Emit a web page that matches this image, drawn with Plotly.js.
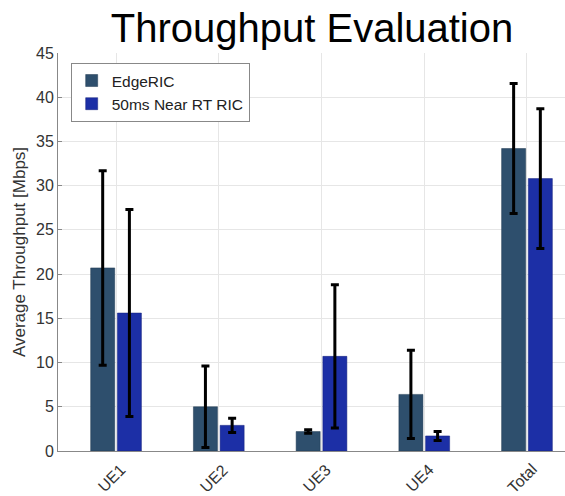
<!DOCTYPE html>
<html>
<head>
<meta charset="utf-8">
<script src="https://cdn.plot.ly/plotly-3.0.1.min.js"></script>
<style>html,body{margin:0;padding:0;background:#fff;}#chart{width:565px;height:496px;}</style>
</head>
<body>
<div id="chart"></div>
<script>
const categories = ["UE1", "UE2", "UE3", "UE4", "Total"];
const edgericMean = [20.7, 5.0, 2.2, 6.4, 34.2];
const edgericErr = [11.0, 4.6, 0.2, 5.0, 7.35];
const nearRtMean = [15.6, 2.9, 10.7, 1.7, 30.8];
const nearRtErr = [11.7, 0.8, 8.1, 0.5, 7.9];
const seriesNames = ["EdgeRIC", "50ms Near RT RIC"];
const yTicks = [0, 5, 10, 15, 20, 25, 30, 35, 40, 45];

const errStyle = {type: "data", visible: true, color: "#000000", thickness: 3, width: 4};

const traces = [
  {type: "bar", name: seriesNames[0], x: categories, y: edgericMean,
   marker: {color: "#2e4f6d", line: {color: "#1e3850", width: 0.5}},
   error_y: Object.assign({array: edgericErr}, errStyle)},
  {type: "bar", name: seriesNames[1], x: categories, y: nearRtMean,
   marker: {color: "#1c2fa6", line: {color: "#15207a", width: 0.5}},
   error_y: Object.assign({array: nearRtErr}, errStyle)}
];

const tickAnnotations = categories.map(c => ({
  x: c, y: 0, xref: "x", yref: "y", text: c, showarrow: false,
  textangle: -45, xanchor: "center", yanchor: "middle",
  xshift: -5, yshift: -27,
  font: {size: 16, color: "#333333"}
}));

const layout = {
  width: 565, height: 496,
  margin: {l: 58, r: 0, t: 53, b: 45},
  paper_bgcolor: "#ffffff", plot_bgcolor: "#ffffff",
  font: {family: "Liberation Sans, Arial, sans-serif", color: "#333333"},
  title: {text: "Throughput Evaluation", x: 312 / 565, xref: "container", xanchor: "center",
          y: 1 - 28 / 496, yref: "container", yanchor: "middle",
          font: {size: 40, color: "#000000", family: "Liberation Sans, Arial, sans-serif"}},
  barmode: "group", bargap: 0.48, bargroupgap: 0.1,
  showlegend: true,
  legend: {x: 0.025, y: 0.975, xanchor: "left", yanchor: "top",
           bgcolor: "#ffffff", bordercolor: "#888888", borderwidth: 1,
           font: {size: 15.5, color: "#222222"}, tracegroupgap: 0},
  annotations: tickAnnotations,
  xaxis: {
    type: "category", range: [-0.565, 4.37],
    showgrid: true, gridcolor: "#e6e6e6", gridwidth: 1,
    showline: true, linecolor: "#888888", linewidth: 1,
    ticks: "", showticklabels: false,
    zeroline: false
  },
  yaxis: {
    range: [0, 45], tickvals: yTicks, ticktext: yTicks.map(String),
    showgrid: true, gridcolor: "#e6e6e6", gridwidth: 1,
    showline: true, linecolor: "#888888", linewidth: 1,
    ticks: "inside", ticklen: 4, tickcolor: "#888888",
    tickfont: {size: 16, color: "#333333"},
    title: {text: "Average Throughput [Mbps]", font: {size: 17, color: "#333333"}, standoff: 6},
    zeroline: false
  }
};

Plotly.newPlot("chart", traces, layout, {displayModeBar: false, staticPlot: true});
</script>
</body>
</html>
